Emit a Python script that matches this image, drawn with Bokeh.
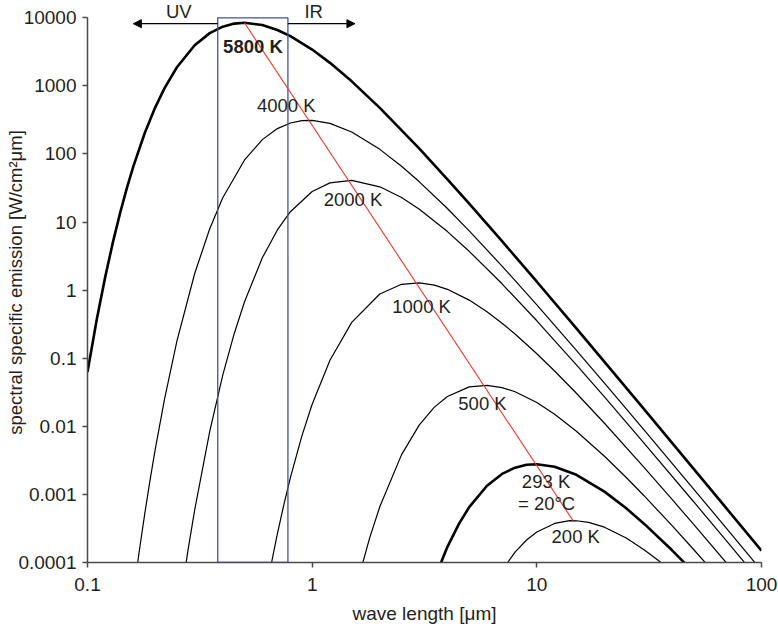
from bokeh.plotting import figure
from bokeh.models import Range1d, FixedTicker, Label, Arrow, NormalHead
from bokeh.embed import file_html
from bokeh.resources import INLINE

# ---- data (wave length in µm, emission in W/cm²µm) ----
lam_5800 = [0.1, 0.11, 0.12, 0.13, 0.14, 0.15, 0.16, 0.18, 0.2, 0.22, 0.25, 0.3, 0.35, 0.4, 0.45,
            0.5, 0.6, 0.7, 0.8, 1, 1.2, 1.5, 2, 3, 4, 5, 7, 10, 15, 20, 30, 50, 70, 100]
em_5800 = [0.063, 0.373, 1.58, 5.21, 14.0, 32.4, 65.9, 204.8, 480, 920.6, 1879, 3950, 5955, 7418,
           8218, 8444, 7828, 6624, 5381, 3418, 2179, 1166, 476, 119.7, 42.5, 18.6, 5.24, 1.33,
           0.274, 0.0886, 0.01786, 0.002354, 6.17e-4, 1.49e-4]

lam_4000 = [0.16, 0.17, 0.18, 0.19, 0.2, 0.22, 0.25, 0.3, 0.35, 0.4, 0.5, 0.6, 0.7, 0.8, 0.9, 1.0,
            1.2, 1.5, 2, 2.5, 3, 4, 5, 7, 10, 15, 20, 30, 50, 70, 100]
em_4000 = [3.42e-5, 1.476e-4, 5.30e-4, 1.644e-3, 4.51e-3, 0.0247, 0.1785, 1.756, 7.97, 22.7, 81.7,
           162.5, 235.9, 285.2, 309.0, 311.8, 281.5, 210, 116.9, 66.0, 39.0, 15.8, 7.44, 2.26,
           0.608, 0.1308, 0.04316, 8.88e-3, 1.189e-3, 3.14e-4, 7.62e-5]

lam_2000 = [0.25, 0.28, 0.3, 0.35, 0.4, 0.45, 0.5, 0.6, 0.7, 0.8, 1.0, 1.2, 1.5, 2, 2.5, 3, 4, 5,
            7, 10, 15, 20, 30, 50, 70, 100]
em_2000 = [1.22e-5, 1.51e-4, 5.94e-4, 8.43e-3, 0.0565, 0.2312, 0.675, 2.985, 7.66, 14.2, 28.1,
           37.6, 41.0, 32.96, 22.9, 15.4, 7.25, 3.72, 1.24, 0.355, 0.0801, 0.027, 5.68e-3,
           7.74e-4, 2.06e-4, 5.02e-5]

lam_1000 = [0.6, 0.65, 0.7, 0.75, 0.8, 0.9, 1.0, 1.2, 1.5, 2, 2.5, 3, 3.5, 4, 5, 6, 7, 8, 10, 12,
            15, 20, 30, 40, 50, 70, 100]
em_1000 = [1.85e-5, 7.86e-5, 2.64e-4, 7.34e-4, 1.765e-3, 7.23e-3, 0.0211, 0.0933, 0.3364, 0.879,
           1.218, 1.283, 1.187, 1.029, 0.714, 0.481, 0.327, 0.2266, 0.1163, 0.0649, 0.0306,
           0.0111, 2.50e-3, 8.44e-4, 3.59e-4, 9.76e-5, 2.42e-5]

lam_500 = [1.6, 1.8, 2, 2.5, 3, 3.5, 4, 5, 6, 7, 8, 10, 12, 15, 20, 25, 30, 40, 50, 60, 70]
em_500 = [5.52e-5, 2.26e-4, 6.60e-4, 3.84e-3, 0.01052, 0.01914, 0.02745, 0.03802, 0.04007, 0.0371,
          0.03218, 0.02232, 0.01503, 8.48e-3, 3.64e-3, 1.774e-3, 9.57e-4, 3.47e-4, 1.54e-4,
          7.82e-5, 4.38e-5]

lam_293 = [3.5, 4, 4.5, 5, 6, 7, 8, 9, 10, 12, 15, 20, 25, 30, 40, 50]
em_293 = [5.74e-5, 1.70e-4, 3.70e-4, 6.50e-4, 1.342e-3, 2.00e-3, 2.47e-3, 2.72e-3, 2.78e-3,
          2.55e-3, 1.94e-3, 1.098e-3, 6.25e-4, 3.72e-4, 1.51e-4, 7.17e-5]

lam_200 = [7, 8, 9, 10, 12, 14, 15, 17, 20, 25, 30, 35, 40]
em_200 = [7.66e-5, 1.42e-4, 2.14e-4, 2.81e-4, 3.75e-4, 4.11e-4, 4.10e-4, 3.89e-4, 3.30e-4,
          2.29e-4, 1.54e-4, 1.05e-4, 7.25e-5]

# Wien displacement line (peak of 5800 K to peak of 200 K)
wien_lam = [0.4997, 14.49]
wien_em = [8440, 4.12e-4]

# visible band box
visible_lam = [0.38, 0.78]
visible_em = [1e-4, 1e4]

# UV / IR arrows
arrow_em = 8200
uv_arrow = [0.38, 0.16]
ir_arrow = [0.78, 1.55]

x_ticks = [0.1, 1, 10, 100]
x_tick_labels = ["0.1", "1", "10", "100"]
y_ticks = [1e-4, 1e-3, 1e-2, 1e-1, 1, 10, 100, 1000, 10000]
y_tick_labels = ["0.0001", "0.001", "0.01", "0.1", "1", "10", "100", "1000", "10000"]

FONT = "Liberation Sans"
TXT = "#231f20"
AX = "#4a4a4a"
FS = "19px"
LFS = "18.5px"

# frame top sits a little above 10000 so the UV / IR labels stay inside the frame
p = figure(width=778, height=627, x_axis_type="log", y_axis_type="log",
           x_range=Range1d(0.1, 100), y_range=Range1d(1e-4, 16780),
           output_backend="svg", toolbar_location=None,
           min_border_left=87, min_border_right=17, min_border_top=2, min_border_bottom=65)
p.outline_line_color = None
p.xgrid.visible = False
p.ygrid.visible = False
p.background_fill_color = "white"
p.border_fill_color = "white"

p.xaxis.ticker = FixedTicker(ticks=x_ticks)
p.xaxis.major_label_overrides = {t: l for t, l in zip(x_ticks, x_tick_labels)}
p.yaxis.ticker = FixedTicker(ticks=y_ticks)
p.yaxis.major_label_overrides = {t: l for t, l in zip(y_ticks, y_tick_labels)}
p.yaxis.bounds = (1e-4, 1e4)

for ax in (p.xaxis[0], p.yaxis[0]):
    ax.axis_line_color = AX
    ax.axis_line_width = 1.5
    ax.major_tick_line_color = AX
    ax.major_tick_line_width = 1.5
    ax.major_tick_out = 5
    ax.major_tick_in = 0
    ax.minor_tick_line_color = None
    ax.major_label_text_font = FONT
    ax.major_label_text_font_size = FS
    ax.major_label_text_color = TXT
    ax.axis_label_text_font = FONT
    ax.axis_label_text_font_style = "normal"
    ax.axis_label_text_color = TXT

p.xaxis.axis_label = "wave length [μm]"
p.xaxis.axis_label_text_font_size = FS
p.xaxis.major_label_standoff = 10
p.xaxis.axis_label_standoff = 9
p.yaxis.axis_label = "spectral specific emission [W/cm²μm]"
p.yaxis.axis_label_text_font_size = LFS
p.yaxis.major_label_standoff = 6
p.yaxis.axis_label_standoff = -11

# curves
thin = 1.2
thick = 2.6
p.line(lam_200, em_200, line_color="black", line_width=thin)
p.line(lam_293, em_293, line_color="black", line_width=thick)
p.line(lam_500, em_500, line_color="black", line_width=thin)
p.line(lam_1000, em_1000, line_color="black", line_width=thin)
p.line(lam_2000, em_2000, line_color="black", line_width=thin)
p.line(lam_4000, em_4000, line_color="black", line_width=thin)
p.line(lam_5800, em_5800, line_color="black", line_width=thick)

# visible box and Wien line
p.quad(left=[visible_lam[0]], right=[visible_lam[1]], bottom=[visible_em[0]], top=[visible_em[1]],
       fill_color=None, line_color="#3f51a3", line_width=1.3)
p.line(wien_lam, wien_em, line_color="#e8392a", line_width=1.1)

# arrows
for xs in (uv_arrow, ir_arrow):
    p.add_layout(Arrow(end=NormalHead(size=8, fill_color="black", line_color="black", line_width=1),
                       x_start=xs[0], y_start=arrow_em, x_end=xs[1], y_end=arrow_em,
                       line_color="black", line_width=1.2))

def lab(x, y, t, bold=False):
    p.add_layout(Label(x=x, y=y, text=t, text_align="center", text_baseline="alphabetic",
                       text_font=FONT, text_font_size=LFS, text_color=TXT,
                       text_font_style="bold" if bold else "normal"))

lab(0.255, 12250, "UV")
lab(1.016, 12250, "IR")
lab(0.545, 3750, "5800 K", bold=True)
lab(0.767, 509, "4000 K")
lab(1.519, 21.4, "2000 K")
lab(3.07, 0.566, "1000 K")
lab(5.73, 0.0214, "500 K")
lab(10.99, 1.57e-3, "293 K")
lab(11.05, 7.28e-4, "= 20°C")
lab(14.9, 2.45e-4, "200 K")

open("out.html", "w").write(file_html(p, INLINE))
